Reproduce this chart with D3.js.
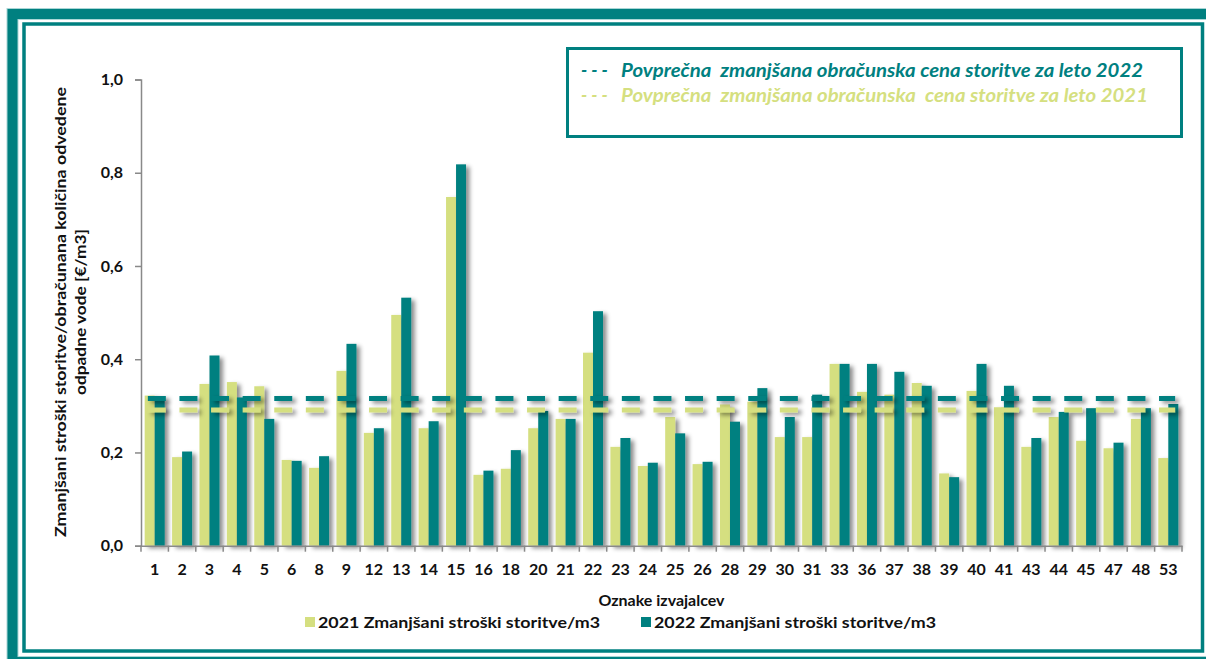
<!DOCTYPE html>
<html>
<head>
<meta charset="utf-8">
<script src="https://cdn.jsdelivr.net/npm/d3@7"></script>
<style>
    body { margin: 0; background: #fff; }
    svg text { font-family: Lato, 'Open Sans', sans-serif; font-weight: bold; white-space: pre; }
</style>
</head>
<body>
<svg id="chart" width="1206" height="659"></svg>
<script>
// oznake izvajalcev in vrednosti [€/m3]
const providers = ['1', '2', '3', '4', '5', '6', '8', '9', '12', '13', '14', '15', '16', '18', '20', '21', '22', '23', '24',
                   '25', '26', '28', '29', '30', '31', '33', '36', '37', '38', '39', '40', '41', '43', '44', '45', '47', '48', '53'];
const costs2021 = [0.322, 0.190, 0.347, 0.351, 0.342, 0.184, 0.167, 0.375, 0.242, 0.495, 0.252, 0.748, 0.152, 0.165, 0.252, 0.272, 0.414, 0.212, 0.171,
                   0.276, 0.175, 0.303, 0.309, 0.233, 0.233, 0.390, 0.330, 0.324, 0.349, 0.155, 0.332, 0.297, 0.212, 0.276, 0.225, 0.209, 0.272, 0.188];
const costs2022 = [0.315, 0.202, 0.408, 0.318, 0.272, 0.182, 0.192, 0.433, 0.252, 0.532, 0.267, 0.818, 0.161, 0.205, 0.289, 0.272, 0.503, 0.231, 0.178,
                   0.241, 0.180, 0.266, 0.338, 0.276, 0.324, 0.390, 0.390, 0.373, 0.343, 0.147, 0.390, 0.343, 0.231, 0.287, 0.295, 0.221, 0.295, 0.304];
const averages = [0.291, 0.316];
const years = ['2021', '2022'];
const yTicks = [0, 0.2, 0.4, 0.6, 0.8, 1.0];
const seriesNames = ['2021 Zmanjšani stroški storitve/m3', '2022 Zmanjšani stroški storitve/m3'];
const averageNames = ['Povprečna  zmanjšana obračunska  cena storitve za leto 2021',
                      'Povprečna  zmanjšana obračunska cena storitve za leto 2022'];
const yTitle = ['Zmanjšani stroški storitve/obračunana količina odvedene', 'odpadne vode [€/m3]'];
const xTitle = 'Oznake izvajalcev';

const teal = '#008080';
const lime = '#d5df80';
const axisGrey = '#898989';
const colors = { '2021': lime, '2022': teal };

const svg = d3.select('#chart');
const plot = { left: 141, right: 1182, top: 79.5, bottom: 545.7 };

const rows = providers.map((p, i) => ({ provider: p, '2021': costs2021[i], '2022': costs2022[i] }));

const x = d3.scaleBand()
            .domain(providers)
            .range([plot.left, plot.right])
            .paddingInner(0.27)
            .paddingOuter(0.135);
const xSeries = d3.scaleBand()
                  .domain(years)
                  .range([0, x.bandwidth()]);
const y = d3.scaleLinear()
            .domain([0, 1])
            .range([plot.bottom, plot.top]);

const fmt = d3.formatLocale({ decimal: ',', thousands: '.', grouping: [3], currency: ['', '€'] }).format('.1f');

// shadow like the office chart (user space, so flat lines get one too)
const defs = svg.append('defs');
defs.append('filter')
    .attr('id', 'shadow')
    .attr('filterUnits', 'userSpaceOnUse')
    .attr('x', 0).attr('y', 0).attr('width', 1206).attr('height', 659)
    .append('feDropShadow')
    .attr('dx', 3.5).attr('dy', 2.5).attr('stdDeviation', 2)
    .attr('flood-color', '#000').attr('flood-opacity', 0.45);

// frames
svg.append('rect')
    .attr('x', 12.5).attr('y', 14).attr('width', 1210).attr('height', 648)
    .attr('fill', 'none').attr('stroke', '#a9d6d6').attr('stroke-width', 12);
svg.append('rect')
    .attr('x', 12.5).attr('y', 14).attr('width', 1210).attr('height', 648)
    .attr('fill', 'none').attr('stroke', teal).attr('stroke-width', 10);
svg.append('rect')
    .attr('x', 24).attr('y', 24).attr('width', 1178.5).attr('height', 627)
    .attr('fill', 'none').attr('stroke', teal).attr('stroke-width', 3.5);

// bars
const groups = svg.append('g')
    .selectAll('g')
    .data(rows)
    .join('g')
    .attr('transform', d => `translate(${x(d.provider)},0)`);

groups.selectAll('rect')
    .data(d => years.map(yr => ({ year: yr, value: d[yr] })))
    .join('rect')
    .attr('x', d => xSeries(d.year))
    .attr('y', d => y(d.value))
    .attr('width', xSeries.bandwidth())
    .attr('height', d => y(0) - y(d.value))
    .attr('fill', d => colors[d.year])
    .attr('filter', 'url(#shadow)');

// average lines
const step = x.step();
svg.append('g')
    .selectAll('line')
    .data(years.map((yr, i) => ({ year: yr, value: averages[i] })))
    .join('line')
    .attr('x1', plot.left + step * 0.25)
    .attr('x2', plot.right - step * 0.25)
    .attr('y1', d => y(d.value))
    .attr('y2', d => y(d.value))
    .attr('stroke', d => colors[d.year])
    .attr('stroke-width', 5)
    .attr('stroke-dasharray', '18,13.6')
    .attr('filter', 'url(#shadow)');

// y axis
const yAxis = svg.append('g')
    .attr('transform', `translate(${plot.left},0)`)
    .call(d3.axisLeft(y).tickValues(yTicks).tickFormat(fmt).tickSize(6).tickPadding(12));
yAxis.select('.domain').attr('stroke', axisGrey).attr('stroke-width', 1.5);
yAxis.selectAll('.tick line').attr('stroke', axisGrey).attr('stroke-width', 1.5);
yAxis.selectAll('.tick text')
    .attr('font-size', 16)
    .attr('fill', '#111');

// x axis: ticks between categories
const xAxis = svg.append('g')
    .attr('transform', `translate(0,${plot.bottom})`)
    .call(d3.axisBottom(x).tickSize(0).tickPadding(18));
xAxis.select('.domain').attr('stroke', axisGrey).attr('stroke-width', 1.5);
xAxis.selectAll('.tick text')
    .attr('font-size', 16)
    .attr('fill', '#111');
xAxis.selectAll('.boundary')
    .data(d3.range(providers.length + 1))
    .join('line')
    .attr('class', 'boundary')
    .attr('x1', i => plot.left + i * step)
    .attr('x2', i => plot.left + i * step)
    .attr('y1', 0)
    .attr('y2', 6)
    .attr('stroke', axisGrey)
    .attr('stroke-width', 1.5);

// axis titles
svg.append('text')
    .attr('x', (plot.left + plot.right) / 2)
    .attr('y', 606)
    .attr('text-anchor', 'middle')
    .attr('font-size', 16)
    .attr('fill', '#111')
    .text(xTitle);

svg.append('g')
    .attr('transform', 'translate(66,312) rotate(-90)')
    .selectAll('text')
    .data(yTitle)
    .join('text')
    .attr('x', 0)
    .attr('y', (d, i) => i * 20)
    .attr('text-anchor', 'middle')
    .attr('font-size', 16)
    .attr('fill', '#111')
    .attr('textLength', (d, i) => i === 0 ? 450 : 166)
    .attr('lengthAdjust', 'spacingAndGlyphs')
    .text(d => d);

// bottom legend
const legendX = [305, 641];
const legend = svg.append('g')
    .selectAll('g')
    .data(years)
    .join('g')
    .attr('transform', (d, i) => `translate(${legendX[i]},617)`);
legend.append('rect')
    .attr('width', 10).attr('height', 10)
    .attr('fill', d => colors[d]);
legend.append('text')
    .attr('x', 13)
    .attr('y', 10.5)
    .attr('font-size', 16)
    .attr('fill', '#111')
    .attr('textLength', 282)
    .attr('lengthAdjust', 'spacingAndGlyphs')
    .text((d, i) => seriesNames[i]);

// average legend box
svg.append('rect')
    .attr('x', 567.5).attr('y', 48.5).attr('width', 614).attr('height', 88)
    .attr('fill', '#fff').attr('stroke', teal).attr('stroke-width', 3);

const avgLegend = svg.append('g')
    .selectAll('g')
    .data([1, 0])
    .join('g')
    .attr('transform', (d, i) => `translate(581,${77 + i * 25})`)
    .attr('fill', d => colors[years[d]])
    .attr('font-style', 'italic')
    .attr('font-size', 18);
avgLegend.append('text')
    .text('- - -');
avgLegend.append('text')
    .attr('x', 40)
    .attr('textLength', d => d === 1 ? 522 : 527)
    .attr('lengthAdjust', 'spacingAndGlyphs')
    .text(d => averageNames[d]);
</script>
</body>
</html>
